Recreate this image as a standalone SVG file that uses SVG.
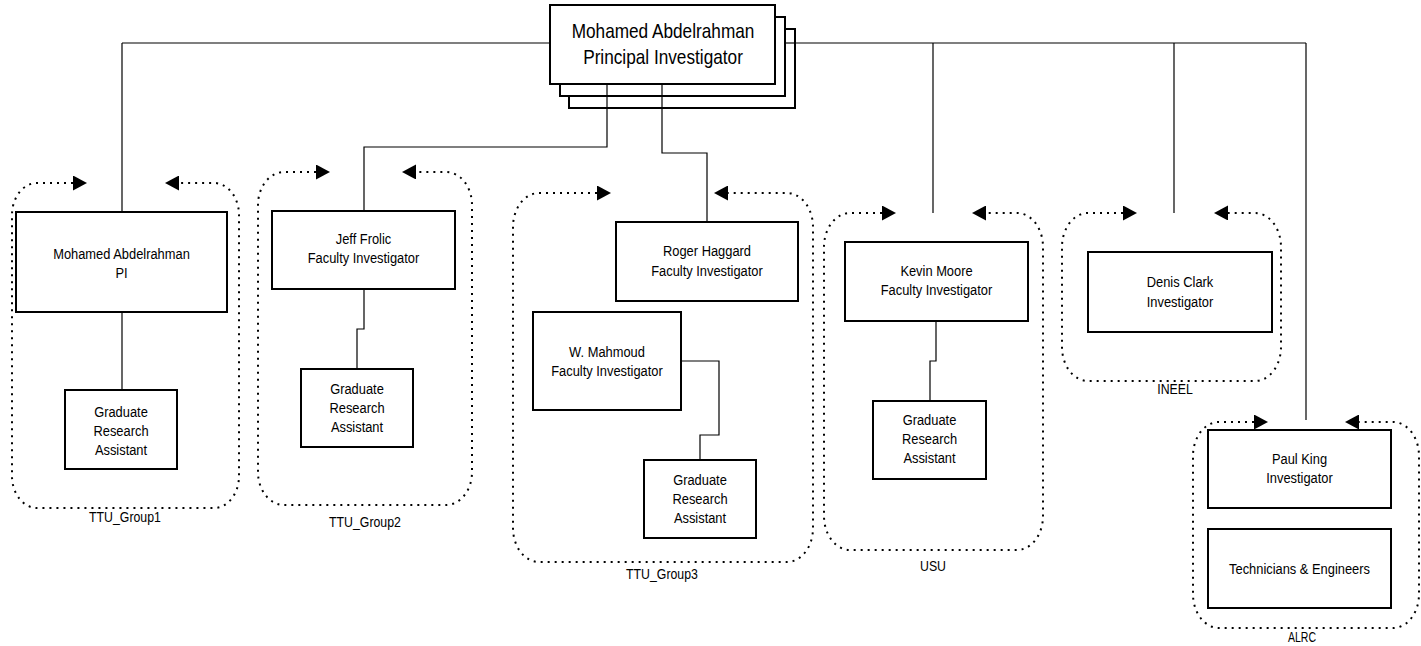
<svg xmlns="http://www.w3.org/2000/svg" width="1421" height="646" viewBox="0 0 1421 646">
  <style>
    .box { fill: #fff; stroke: #000; stroke-width: 2; }
    .wire { fill: none; stroke: #000; stroke-width: 1.2; }
    .frame { fill: none; stroke: #000; stroke-width: 2; stroke-dasharray: 2 5; marker-start: url(#tipIn); marker-end: url(#tipIn); }
    text { font-family: "Liberation Sans", Arial, sans-serif; fill: #000; text-anchor: middle; font-size: 14px; }
    .big { font-size: 21px; }
  </style>
  <defs>
    <marker id="tipIn" markerUnits="userSpaceOnUse" markerWidth="14" markerHeight="15" refX="0" refY="7.5" orient="auto-start-reverse" viewBox="0 0 14 15">
      <path d="M0,0 L14,7.5 L0,15 Z" fill="#000"/>
    </marker>
  </defs>
  <rect width="1421" height="646" fill="#fff"/>

  <!-- dotted team frames; the arrowheads point at the incoming reporting line -->
  <g id="frames">
    <path class="frame" d="M73,183 L37,183 A25,32 0 0 0 12,215 L12,476 A25,32 0 0 0 37,508 L214,508 A25,32 0 0 0 239,476 L239,215 A25,32 0 0 0 214,183 L179,183"/>
    <path class="frame" d="M316,172 L284,172 A26,33 0 0 0 258,205 L258,472 A26,33 0 0 0 284,505 L446,505 A26,33 0 0 0 472,472 L472,205 A26,33 0 0 0 446,172 L416,172"/>
    <path class="frame" d="M597,193 L539,193 A26,34 0 0 0 513,227 L513,528 A26,34 0 0 0 539,562 L787,562 A26,34 0 0 0 813,528 L813,227 A26,34 0 0 0 787,193 L728,193"/>
    <path class="frame" d="M882,213 L850,213 A26,34 0 0 0 824,247 L824,516 A26,34 0 0 0 850,550 L1017,550 A26,34 0 0 0 1043,516 L1043,247 A26,34 0 0 0 1017,213 L986,213"/>
    <path class="frame" d="M1123,213 L1088,213 A26,34 0 0 0 1062,247 L1062,347 A26,34 0 0 0 1088,381 L1255,381 A26,34 0 0 0 1281,347 L1281,247 A26,34 0 0 0 1255,213 L1228,213"/>
    <path class="frame" d="M1254,422 L1219,422 A26,34 0 0 0 1193,456 L1193,594 A26,34 0 0 0 1219,628 L1393,628 A26,34 0 0 0 1419,594 L1419,456 A26,34 0 0 0 1393,422 L1359,422"/>
    <g transform="matrix(0.88 0 0 1 125 0)"><text x="0" y="522">TTU_Group1</text></g>
    <g transform="matrix(0.88 0 0 1 365 0)"><text x="0" y="527">TTU_Group2</text></g>
    <g transform="matrix(0.88 0 0 1 662 0)"><text x="0" y="579">TTU_Group3</text></g>
    <g transform="matrix(0.88 0 0 1 933 0)"><text x="0" y="571">USU</text></g>
    <g transform="matrix(0.88 0 0 1 1175 0)"><text x="0" y="394">INEEL</text></g>
    <g transform="matrix(0.75 0 0 1 1302 0)"><text x="0" y="642">ALRC</text></g>
  </g>

  <!-- connectors -->
  <g id="connectors">
    <path class="wire" d="M122,43 L1306,43"/>
    <path class="wire" d="M122,43 L122,212"/>
    <path class="wire" d="M933,43 L933,213"/>
    <path class="wire" d="M1174,43 L1174,213"/>
    <path class="wire" d="M1306,43 L1306,420"/>
    <path class="wire" d="M122,312 L122,390"/>
    <path class="wire" d="M364,289 L364,329 L357,329 L357,369"/>
    <path class="wire" d="M681,361 L719,361 L719,435 L700,435 L700,460"/>
    <path class="wire" d="M936,321 L936,361 L930,361 L930,401"/>
  </g>

  <!-- principal investigator, drawn as a stack of three cards -->
  <g id="pi-top">
    <rect class="box" x="569" y="29" width="226" height="79"/>
    <rect class="box" x="560" y="17" width="225" height="79"/>
    <rect class="box" x="550" y="5" width="225" height="79"/>
    <path class="wire" d="M785,43 L795,43"/>
    <path class="wire" d="M607,84 L607,147 L364,147 L364,211"/>
    <path class="wire" d="M662,84 L662,153 L707,153 L707,222"/>
    <g transform="matrix(0.82 0 0 1 663 0)">
      <text class="big" x="0" y="38">Mohamed Abdelrahman</text>
      <text class="big" x="0" y="64">Principal Investigator</text>
    </g>
  </g>

  <g id="g1-pi">
    <rect class="box" x="16" y="212" width="211" height="100"/>
    <g transform="matrix(0.92 0 0 1 121.5 0)">
      <text x="0" y="259">Mohamed Abdelrahman</text>
      <text x="0" y="278">PI</text>
    </g>
  </g>
  <g id="g1-gra">
    <rect class="box" x="65" y="390" width="112" height="79"/>
    <g transform="matrix(0.92 0 0 1 121 0)">
      <text x="0" y="417">Graduate</text>
      <text x="0" y="436">Research</text>
      <text x="0" y="455">Assistant</text>
    </g>
  </g>

  <g id="g2-frolic">
    <rect class="box" x="272" y="211" width="183" height="78"/>
    <g transform="matrix(0.92 0 0 1 363.5 0)">
      <text x="0" y="244">Jeff Frolic</text>
      <text x="0" y="263">Faculty Investigator</text>
    </g>
  </g>
  <g id="g2-gra">
    <rect class="box" x="301" y="369" width="112" height="78"/>
    <g transform="matrix(0.92 0 0 1 357 0)">
      <text x="0" y="394">Graduate</text>
      <text x="0" y="413">Research</text>
      <text x="0" y="432">Assistant</text>
    </g>
  </g>

  <g id="g3-haggard">
    <rect class="box" x="616" y="222" width="182" height="79"/>
    <g transform="matrix(0.92 0 0 1 707 0)">
      <text x="0" y="256">Roger Haggard</text>
      <text x="0" y="276">Faculty Investigator</text>
    </g>
  </g>
  <g id="g3-mahmoud">
    <rect class="box" x="533" y="312" width="148" height="98"/>
    <g transform="matrix(0.92 0 0 1 607 0)">
      <text x="0" y="357">W. Mahmoud</text>
      <text x="0" y="376">Faculty Investigator</text>
    </g>
  </g>
  <g id="g3-gra">
    <rect class="box" x="644" y="460" width="112" height="78"/>
    <g transform="matrix(0.92 0 0 1 700 0)">
      <text x="0" y="485">Graduate</text>
      <text x="0" y="504">Research</text>
      <text x="0" y="523">Assistant</text>
    </g>
  </g>

  <g id="usu-moore">
    <rect class="box" x="845" y="242" width="183" height="79"/>
    <g transform="matrix(0.92 0 0 1 936.5 0)">
      <text x="0" y="276">Kevin Moore</text>
      <text x="0" y="295">Faculty Investigator</text>
    </g>
  </g>
  <g id="usu-gra">
    <rect class="box" x="873" y="401" width="113" height="78"/>
    <g transform="matrix(0.92 0 0 1 929.5 0)">
      <text x="0" y="425">Graduate</text>
      <text x="0" y="444">Research</text>
      <text x="0" y="463">Assistant</text>
    </g>
  </g>

  <g id="ineel-clark">
    <rect class="box" x="1088" y="252" width="184" height="80"/>
    <g transform="matrix(0.92 0 0 1 1180 0)">
      <text x="0" y="287">Denis Clark</text>
      <text x="0" y="307">Investigator</text>
    </g>
  </g>

  <g id="alrc-king">
    <rect class="box" x="1208" y="430" width="183" height="78"/>
    <g transform="matrix(0.92 0 0 1 1299.5 0)">
      <text x="0" y="464">Paul King</text>
      <text x="0" y="483">Investigator</text>
    </g>
  </g>
  <g id="alrc-tech">
    <rect class="box" x="1208" y="529" width="183" height="79"/>
    <g transform="matrix(0.92 0 0 1 1299.5 0)">
      <text x="0" y="574">Technicians &amp; Engineers</text>
    </g>
  </g>
</svg>
